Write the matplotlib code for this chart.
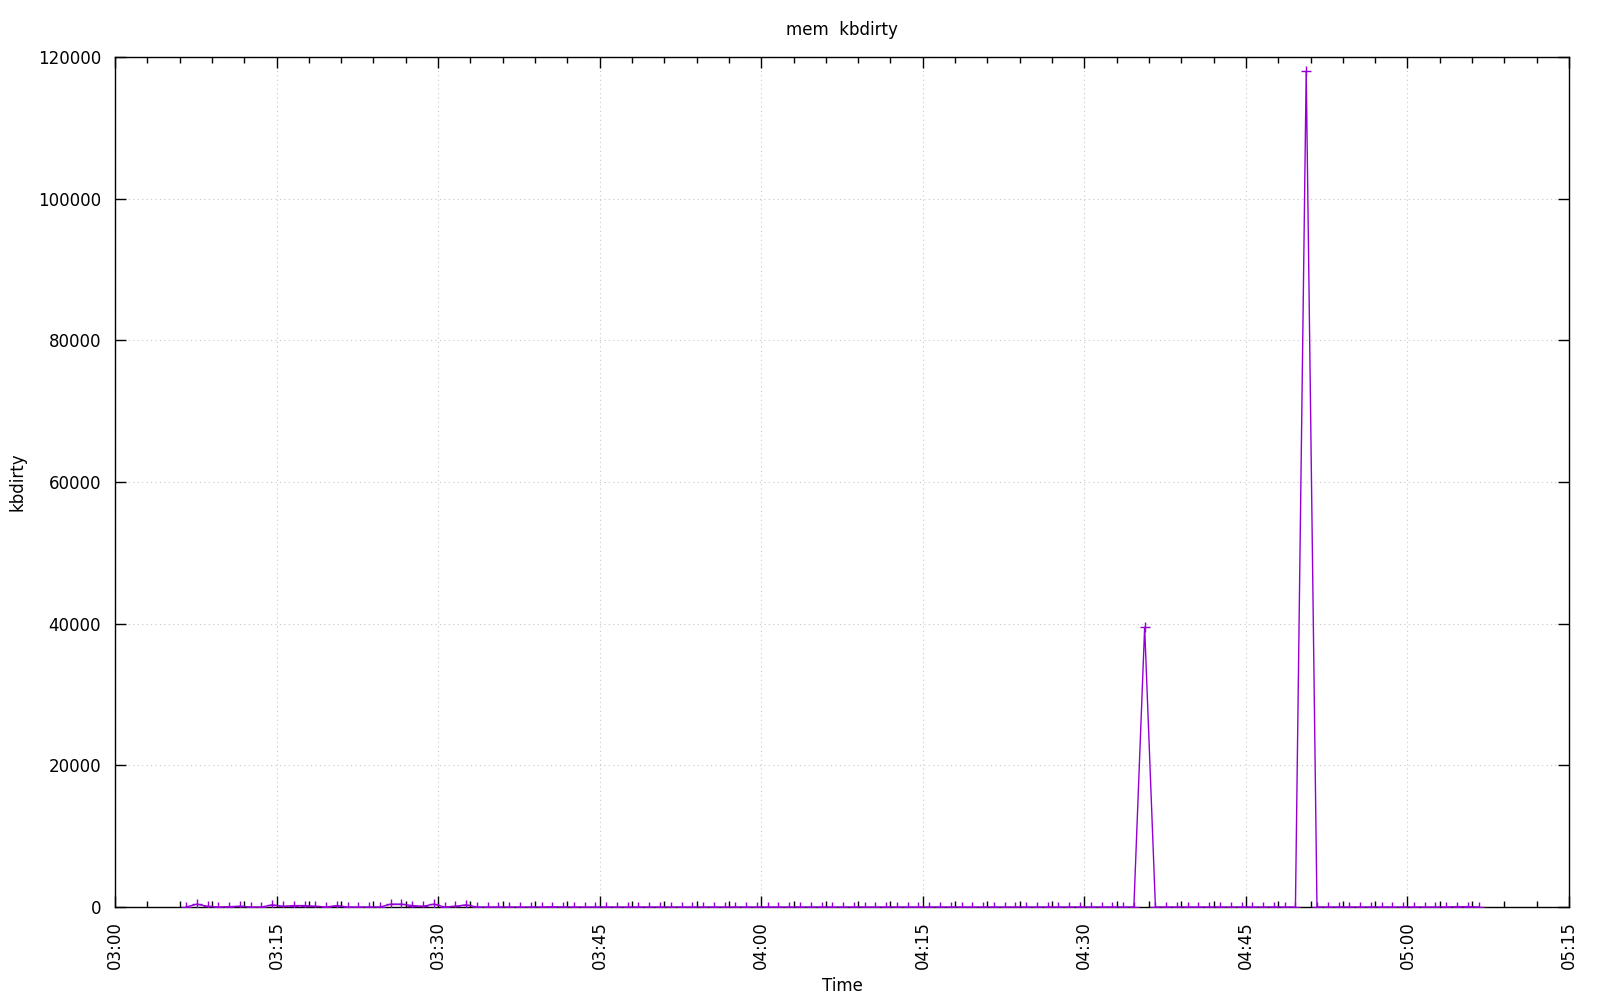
import matplotlib
matplotlib.use("Agg")
import matplotlib.pyplot as plt
import matplotlib.dates as mdates
import pandas as pd

# sample times: one reading per minute
times = pd.date_range("2024-01-01 03:06:36", periods=121, freq="1min")

# kbdirty values
kbdirty = [
    0, 400, 100, 0, 50, 100, 0, 0, 300, 100,
    200, 200, 100, 0, 200, 0, 0, 0, 0, 400,
    400, 200, 100, 400, 0, 100, 300, 0, 0, 0,
    0, 0, 0, 0, 40, 0, 0, 0, 0, 0,
    0, 0, 0, 0, 0, 0, 0, 0, 0, 0,
    0, 0, 0, 0, 0, 0, 0, 0, 0, 0,
    0, 0, 0, 0, 0, 0, 0, 0, 0, 0,
    0, 0, 0, 0, 0, 0, 0, 0, 0, 0,
    0, 0, 0, 0, 0, 0, 0, 0, 0, 39500,
    0, 0, 0, 0, 0, 0, 0, 0, 0, 0,
    0, 0, 0, 0, 118000, 0, 0, 0, 0, 0,
    0, 0, 0, 0, 0, 0, 0, 0, 50, 50,
    0,
]

x_start = pd.Timestamp("2024-01-01 03:00")
x_end = pd.Timestamp("2024-01-01 05:15")

PURPLE = "#9400d3"

fig = plt.figure(figsize=(16, 10), dpi=100)
ax = fig.add_axes([115 / 1600, 1 - 907 / 1000, 1454 / 1600, 850 / 1000])

ax.plot(times, kbdirty, color=PURPLE, lw=1, marker="+", ms=7, mew=1, zorder=3)

ax.set_xlim(x_start, x_end)
ax.set_ylim(0, 120000)

ax.xaxis.set_major_locator(mdates.MinuteLocator(byminute=[0, 15, 30, 45]))
ax.xaxis.set_minor_locator(mdates.MinuteLocator(byminute=range(0, 60, 3)))
ax.xaxis.set_major_formatter(mdates.DateFormatter("%H:%M"))
ax.set_yticks(range(0, 120001, 20000))

ax.tick_params(axis="both", which="both", direction="in", top=True, right=True,
               labelsize=12, width=1)
ax.tick_params(axis="both", which="major", length=8)
ax.tick_params(axis="x", which="minor", length=4)
ax.tick_params(axis="x", which="major", pad=10)
ax.tick_params(axis="y", which="major", pad=10)
plt.setp(ax.get_xticklabels(), rotation=90, ha="center", va="top")

ax.grid(True, which="major", color="#c8c8c8", linestyle=(0, (1, 3)), lw=0.8)
for s in ax.spines.values():
    s.set_linewidth(1)

ax.set_title("mem  kbdirty", fontsize=12, pad=16)
ax.set_xlabel("Time", fontsize=12, labelpad=6)
ax.set_ylabel("kbdirty", fontsize=12)
ax.yaxis.set_label_coords(-0.061, 0.5)

fig.savefig("out.png", dpi=100)
